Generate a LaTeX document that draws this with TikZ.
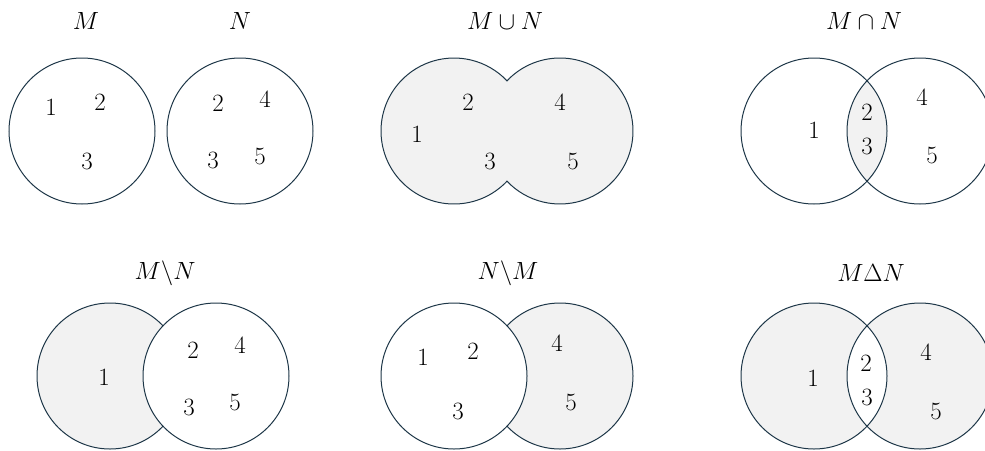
\documentclass[tikz,border=0pt]{standalone}
\begin{document}
\begin{tikzpicture}[x=1pt,y=-1pt,
  ring/.style={draw=edgecol,line width=1pt},
  shade/.style={fill=setfill},
  blank/.style={fill=white},
  elem/.style={inner sep=0pt,font=\fontsize{28}{32}\selectfont},
  title/.style={inner sep=0pt,font=\fontsize{27}{32}\selectfont}]
\definecolor{edgecol}{RGB}{30,55,72}
\definecolor{setfill}{RGB}{242,242,242}
% radius and the angle at which two circles of a pair meet
\def\R{73}
\def\A{43.45}
\clip (0,0) rectangle (985,450);

% ---------------- M and N apart ----------------
\draw[ring] (82,131) circle (\R);
\draw[ring] (240,131) circle (\R);
\node[title] (tM) at (86,21) {$M$};
\node[title] (tN) at (240,21) {$N$};
\node[elem] (m1) at (51,107) {$1$};
\node[elem] (m2) at (100,102) {$2$};
\node[elem] (m3) at (87,161) {$3$};
\node[elem] (n2) at (218,103) {$2$};
\node[elem] (n4) at (265,99) {$4$};
\node[elem] (n3) at (213,160) {$3$};
\node[elem] (n5) at (260,156) {$5$};

% ---------------- union ----------------
\fill[shade] (454,131) circle (\R);
\fill[shade] (560,131) circle (\R);
\draw[ring] (454,131) ++(\A:\R) arc[start angle=\A, end angle=360-\A, radius=\R]
  arc[start angle=180+\A, end angle=540-\A, radius=\R] -- cycle;
\node[title] (tU) at (505,21) {$M\cup N$};
\node[elem] (u1) at (417,134) {$1$};
\node[elem] (u2) at (468,102) {$2$};
\node[elem] (u3) at (490,161) {$3$};
\node[elem] (u4) at (560,102) {$4$};
\node[elem] (u5) at (573,161) {$5$};

% ---------------- intersection ----------------
\fill[shade] (814,131) ++(-\A:\R) arc[start angle=-\A, end angle=\A, radius=\R]
  arc[start angle=180-\A, end angle=180+\A, radius=\R] -- cycle;
\draw[ring] (814,131) circle (\R);
\draw[ring] (920,131) circle (\R);
\node[title] (tI) at (864,21) {$M\cap N$};
\node[elem] (i1) at (814,130) {$1$};
\node[elem] (i2) at (867,112) {$2$};
\node[elem] (i3) at (867,146) {$3$};
\node[elem] (i4) at (922,97) {$4$};
\node[elem] (i5) at (932,155) {$5$};

% ---------------- M minus N ----------------
\fill[shade] (110,376) circle (\R);
\draw[ring] (110,376) circle (\R);
\fill[blank] (216,376) circle (\R);
\draw[ring] (216,376) circle (\R);
\node[title] (tMN) at (165,273) {$M\backslash N$};
\node[elem] (d1) at (104,377) {$1$};
\node[elem] (d2) at (193,350) {$2$};
\node[elem] (d4) at (240,345) {$4$};
\node[elem] (d3) at (189,407) {$3$};
\node[elem] (d5) at (235,402) {$5$};

% ---------------- N minus M ----------------
\fill[shade] (560,376) circle (\R);
\draw[ring] (560,376) circle (\R);
\fill[blank] (454,376) circle (\R);
\draw[ring] (454,376) circle (\R);
\node[title] (tNM) at (508,273) {$N\backslash M$};
\node[elem] (e1) at (423,357) {$1$};
\node[elem] (e2) at (473,351) {$2$};
\node[elem] (e3) at (458,411) {$3$};
\node[elem] (e4) at (557,343) {$4$};
\node[elem] (e5) at (571,402) {$5$};

% ---------------- symmetric difference ----------------
\fill[shade] (814,376) circle (\R);
\fill[shade] (920,376) circle (\R);
\fill[blank] (814,376) ++(-\A:\R) arc[start angle=-\A, end angle=\A, radius=\R]
  arc[start angle=180-\A, end angle=180+\A, radius=\R] -- cycle;
\draw[ring] (814,376) circle (\R);
\draw[ring] (920,376) circle (\R);
\node[title] (tD) at (871,273) {$M\Delta N$};
\node[elem] (s1) at (813,378) {$1$};
\node[elem] (s2) at (866,363) {$2$};
\node[elem] (s3) at (867,397) {$3$};
\node[elem] (s4) at (926,352) {$4$};
\node[elem] (s5) at (936,411) {$5$};
\end{tikzpicture}
\end{document}
